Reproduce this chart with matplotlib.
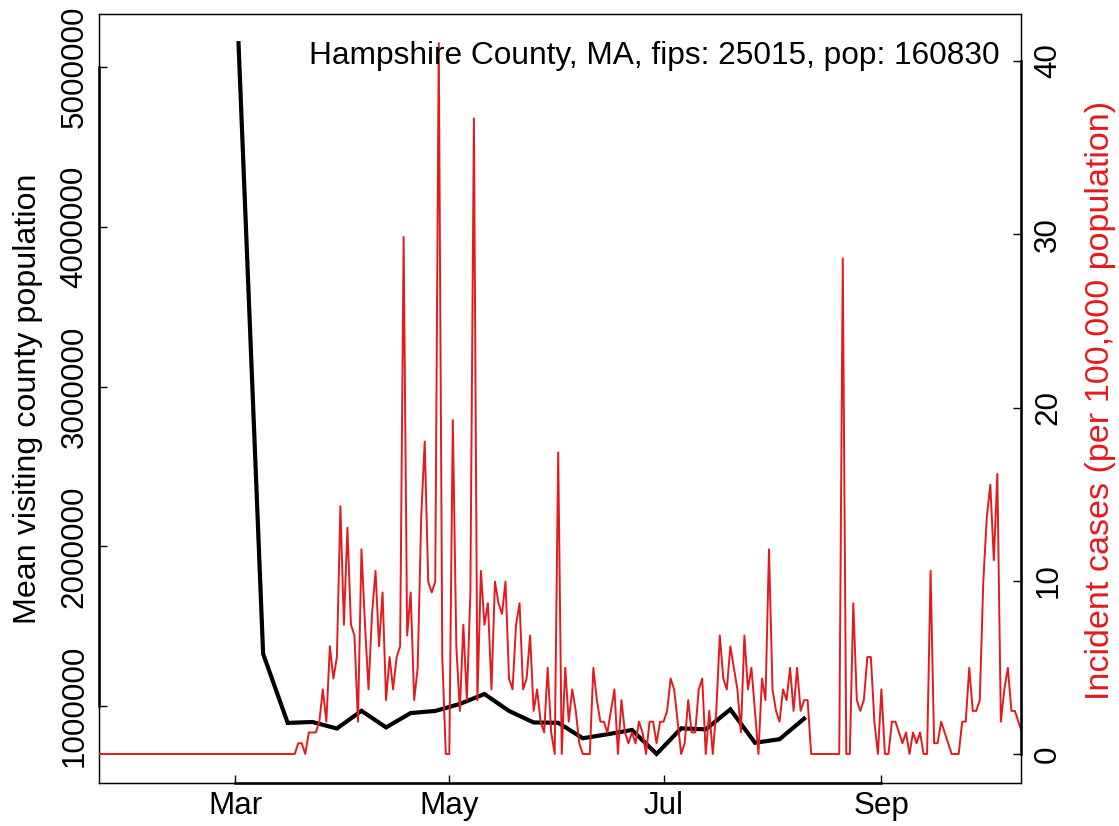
import numpy as np
import matplotlib
matplotlib.use('Agg')
import matplotlib.pyplot as plt
import matplotlib.dates as mdates
from matplotlib.ticker import FixedLocator, FixedFormatter

plt.rcParams['font.family'] = ['Liberation Sans', 'DejaVu Sans']

# ---------------- data ----------------
title_text = "Hampshire County, MA, fips: 25015, pop: 160830"
population = 160830

# weekly mean visiting county population (black line), starting 2020-03-02
mob_start = '2020-03-02'
mob_values = [5149000, 1327000, 894000, 900000, 859000, 970000, 866000, 956000,
              969000, 1013000, 1075000, 969000, 897000, 895000, 798000, 823000,
              850000, 700000, 860000, 854000, 979000, 770000, 792000, 921000]

# daily incident case counts (red line), starting 2020-01-21
case_start = '2020-01-21'
case_counts = [
    0, 0, 0, 0, 0, 0, 0, 0, 0, 0, 0, 0, 0, 0, 0, 0, 0, 0, 0, 0,
    0, 0, 0, 0, 0, 0, 0, 0, 0, 0, 0, 0, 0, 0, 0, 0, 0, 0, 0, 0,
    0, 0, 0, 0, 0, 0, 0, 0, 0, 0, 0, 0, 0, 0, 0, 0, 0, 0,
    1, 1, 0, 2, 2, 2, 3, 6, 3, 10, 7, 9, 23, 12, 21, 12, 11, 3, 19, 12,
    6, 13, 17, 10, 15, 5, 9, 6, 9, 10, 48, 11, 15, 5, 8, 22, 29, 16, 15, 16,
    66, 9, 0, 0, 31, 10, 4, 12, 5, 15, 59, 5, 17, 12, 14, 6, 16, 14, 13, 16,
    7, 6, 12, 14, 6, 7, 11, 4, 6, 3, 2, 8, 2, 0, 28, 0, 8, 3, 6, 4,
    1, 0, 0, 0, 8, 5, 3, 3, 2, 4, 6, 0, 5, 2, 1, 2, 1, 3, 2, 0,
    3, 3, 1, 3, 3, 4, 7, 6, 3, 0, 1, 5, 2, 2, 6, 7, 0, 4, 0, 4,
    11, 7, 6, 10, 8, 6, 2, 11, 6, 8, 4, 0, 7, 5, 19, 6, 4, 3, 6, 5,
    8, 4, 8, 4, 5, 5, 0, 0, 0, 0, 0, 0, 0, 0, 0, 46, 0, 0, 14, 5,
    4, 5, 9, 9, 3, 0, 6, 0, 0, 3, 3, 2, 1, 2, 0, 2, 1, 2, 0, 0,
    17, 1, 1, 3, 2, 1, 0, 0, 0, 3, 3, 8, 4, 4, 5, 16, 22, 25, 18, 26,
    3, 6, 8, 4, 4, 3, 2]

left_ticks = [1000000, 2000000, 3000000, 4000000, 5000000]
left_labels = ["1000000", "2000000", "3000000", "4000000", "5000000"]
right_ticks = [0, 10, 20, 30, 40]
right_labels = ["0", "10", "20", "30", "40"]
month_ticks = ['2020-03-01', '2020-05-01', '2020-07-01', '2020-09-01']
month_labels = ["Mar", "May", "Jul", "Sep"]

left_label = "Mean visiting county population"
right_label = "Incident cases (per 100,000 population)"

# ---------------- derived ----------------
mob_dates = np.datetime64(mob_start) + np.arange(len(mob_values)) * 7
case_dates = np.datetime64(case_start) + np.arange(len(case_counts))
incident = np.array(case_counts) * 100000.0 / population

RED = '#E41A1C'
FS_TICK = 22.6
FS_LAB = 23.2
FS_RLAB = 24.6
FS_TITLE = 22.8

W, H = 1119, 826
fig = plt.figure(figsize=(W / 100, H / 100), dpi=100)
L, R, T, B = 99.3, 1020.7, 14.3, 782.7
ax = fig.add_axes([L / W, 1 - B / H, (R - L) / W, (B - T) / H])

ax.plot(mob_dates, mob_values, color='black', lw=3.0, solid_joinstyle='miter', zorder=3)

ax2 = ax.twinx()
ax2.plot(case_dates, incident, color=RED, lw=1.4, zorder=3)

mar1 = mdates.date2num(np.datetime64('2020-03-01'))
ax.set_xlim(mar1 - 38.63, mar1 + 223.65)
ax.set_ylim(519900, 5329900)
ax2.set_ylim(-1.657, 42.696)

tick_dates = [mdates.date2num(np.datetime64(d)) for d in month_ticks]
ax.xaxis.set_major_locator(FixedLocator(tick_dates))
ax.xaxis.set_major_formatter(FixedFormatter(month_labels))
ax.yaxis.set_major_locator(FixedLocator(left_ticks))
ax.yaxis.set_major_formatter(FixedFormatter(left_labels))
ax2.yaxis.set_major_locator(FixedLocator(right_ticks))
ax2.yaxis.set_major_formatter(FixedFormatter(right_labels))

for a in (ax, ax2):
    a.tick_params(direction='in', length=5.8, width=1.0, labelsize=FS_TICK, colors='black')
    for s in a.spines.values():
        s.set_linewidth(0.9)
ax.tick_params(axis='x', pad=6)
ax.tick_params(axis='y', pad=7, labelrotation=90)
ax2.tick_params(axis='y', pad=9, labelrotation=90)
for lab in ax.get_yticklabels():
    lab.set_va('center')
for lab in ax2.get_yticklabels():
    lab.set_va('center')

# heavier axis lines between first and last tick (R axis() over box())
ax.plot([tick_dates[0], tick_dates[-1]], [0, 0], transform=ax.get_xaxis_transform(),
        color='black', lw=1.8, clip_on=False, zorder=5)
ax.plot([0, 0], [left_ticks[0], left_ticks[-1]], transform=ax.get_yaxis_transform(),
        color='black', lw=1.8, clip_on=False, zorder=5)
ax2.plot([1, 1], [right_ticks[0], right_ticks[-1]], transform=ax2.get_yaxis_transform(),
         color='black', lw=1.8, clip_on=False, zorder=5)

fig.text(28 / W, 1 - 399 / H, left_label, rotation=90, ha='center', va='center', fontsize=FS_LAB)
fig.text(1100 / W, 1 - 400 / H, right_label, rotation=90, ha='center', va='center',
         fontsize=FS_RLAB, color=RED)
fig.text(1000 / W, 1 - 64.3 / H, title_text, ha='right', va='baseline', fontsize=FS_TITLE)

fig.savefig('out.png', dpi=100)
